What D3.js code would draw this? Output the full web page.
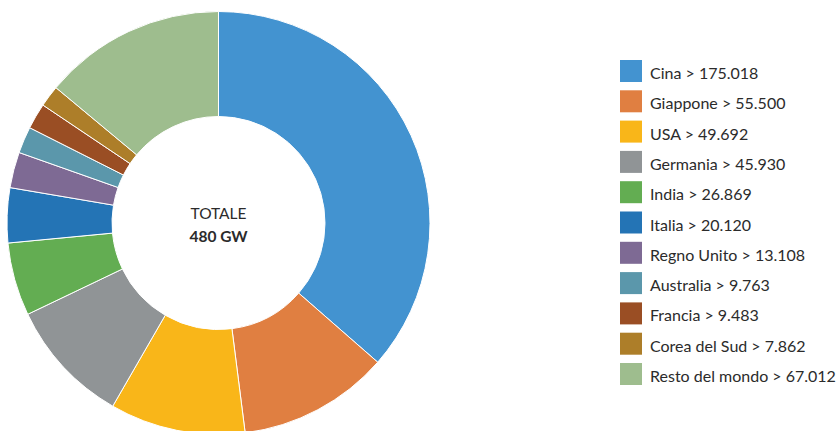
<!DOCTYPE html>
<html>
<head>
<meta charset="utf-8">
<script src="https://cdn.jsdelivr.net/npm/d3@7"></script>
<style>
  html, body { margin: 0; padding: 0; background: #ffffff; }
  svg { display: block; }
</style>
</head>
<body>
<svg id="chart" width="836" height="431"></svg>
<script>
// Installed photovoltaic capacity by country (MW)
const countries = ["Cina", "Giappone", "USA", "Germania", "India", "Italia", "Regno Unito", "Australia", "Francia", "Corea del Sud", "Resto del mondo"];
const capacity = [175018, 55500, 49692, 45930, 26869, 20120, 13108, 9763, 9483, 7862, 67012];
const colors = ["#4393d0", "#e07f41", "#f9b619", "#909496", "#63ad52", "#2474b5", "#7e6a94", "#5b97ab", "#9a4e24", "#ad7e29", "#9ebd8e"];
const totalLabel = "TOTALE";
const totalValue = "480 GW";

const fmt = d3.formatLocale({ decimal: ",", thousands: ".", grouping: [3], currency: ["", "€"] }).format(",d");

const svg = d3.select("#chart");
const cx = 218.5, cy = 223, outerR = 211.5, innerR = 106.5;

const pie = d3.pie().sort(null).value(d => d.value);
const arc = d3.arc().innerRadius(innerR).outerRadius(outerR);
const data = countries.map((c, i) => ({ name: c, value: capacity[i], color: colors[i] }));

const g = svg.append("g").attr("transform", `translate(${cx},${cy})`);
g.selectAll("path")
  .data(pie(data))
  .join("path")
  .attr("d", arc)
  .attr("fill", d => d.data.color)
  .attr("stroke", "#ffffff")
  .attr("stroke-width", 1);

// Centre total
g.append("text")
  .attr("x", 0).attr("y", -4)
  .attr("text-anchor", "middle")
  .attr("font-family", "Lato, sans-serif")
  .attr("font-size", 15.5)
  .attr("fill", "#2b2b2b")
  .text(totalLabel);
g.append("text")
  .attr("x", 0).attr("y", 18.5)
  .attr("text-anchor", "middle")
  .attr("font-family", "Lato, sans-serif")
  .attr("font-weight", "bold")
  .attr("font-size", 15.5)
  .attr("fill", "#2b2b2b")
  .text(totalValue);

// Legend
const legendX = 620, legendY = 60, rowH = 30.3, sw = 22;
const legend = svg.append("g");
const rows = legend.selectAll("g")
  .data(data)
  .join("g")
  .attr("transform", (d, i) => `translate(${legendX},${legendY + i * rowH})`);
rows.append("rect")
  .attr("width", sw).attr("height", sw)
  .attr("fill", d => d.color);
rows.append("text")
  .attr("x", 30).attr("y", 19)
  .attr("font-family", "Lato, sans-serif")
  .attr("font-size", 16)
  .attr("fill", "#2b2b2b")
  .text(d => `${d.name} > ${fmt(d.value)}`);
</script>
</body>
</html>
